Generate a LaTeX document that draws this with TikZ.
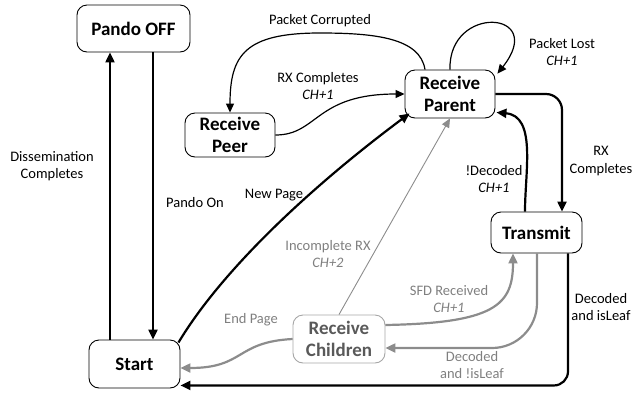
\documentclass[tikz,border=0pt]{standalone}
\usepackage{fontspec}
\setmainfont{Carlito}
\usetikzlibrary{arrows.meta}
\definecolor{gedge}{HTML}{8C8C8C}
\definecolor{gtext}{HTML}{7F7F7F}
\definecolor{gnode}{HTML}{595959}
\definecolor{gborder}{HTML}{A6A6A6}
\tikzset{
  state/.style={draw, rounded corners=10pt, line width=0.9pt, align=center,
    font=\bfseries\fontsize{19}{22.5}\selectfont, inner sep=0pt},
  lbl/.style={align=center, font=\fontsize{14.5}{17.5}\selectfont, inner sep=0pt},
  glbl/.style={lbl, text=gtext},
  thickarr/.style={line width=2.2pt, -{Triangle[length=10pt,width=9pt]}},
  thinarr/.style={line width=1.2pt, -{Triangle[length=9pt,width=8pt]}},
  gthick/.style={line width=2.2pt, draw=gedge, -{Triangle[length=10pt,width=9pt]}, color=gedge},
  gthin/.style={line width=0.9pt, draw=gedge, -{Triangle[length=9pt,width=8pt]}, color=gedge},
}
\begin{document}
\begin{tikzpicture}[x=1pt,y=-1pt]
\useasboundingbox (0,0) rectangle (633,392);
% nodes
\node[state, minimum width=113pt, minimum height=47pt] (off) at (133.5,28.5) {Pando OFF};
\node[state, minimum width=90pt, minimum height=44pt] (peer) at (230,135) {Receive\\Peer};
\node[state, minimum width=90pt, minimum height=48pt] (parent) at (450,94) {Receive\\Parent};
\node[state, minimum width=91pt, minimum height=41pt] (tx) at (536.5,232.5) {Transmit};
\node[state, minimum width=91pt, minimum height=48pt] (start) at (134.5,364) {Start};
\node[state, minimum width=92pt, minimum height=48pt, draw=gborder, text=gnode] (kids) at (339,339) {Receive\\Children};

% Pando OFF <-> Start
\draw[thickarr] ([xshift=-24.5pt]start.north) -- ([xshift=-23.5pt]off.south);
\draw[thickarr] ([xshift=19.5pt]off.south) -- ([xshift=18.5pt]start.north);

% Packet corrupted
\draw[thinarr] ([xshift=-25pt]parent.north) .. controls (420,38) and (375,33) .. (320,33)
   .. controls (245,33) and (230,55) .. (peer.north);
% RX completes peer -> parent
\draw[thinarr] (peer.east) .. controls (318,135) and (315,94) .. (parent.west);
% self loop
\draw[thinarr] (parent.north) .. controls (448,4) and (548,10) .. ([xshift=2pt,yshift=-4pt]parent.north east);
% Parent -> Transmit
\draw[thickarr, rounded corners=16pt] (parent.east) -| ([xshift=25.5pt]tx.north);
% Transmit -> Parent
\draw[thickarr] ([xshift=-11.5pt]tx.north) to[out=90,in=-5] ([xshift=1pt,yshift=6pt]parent.south east);
% New Page
\draw[thickarr] ([xshift=-2pt,yshift=-3pt]start.north east) .. controls (225,265) and (320,180) .. ([xshift=5pt,yshift=5pt]parent.south west);
% Incomplete RX
\draw[gthin] (kids.north) -- (parent.south);
% SFD Received
\draw[gthick] ([yshift=14pt]kids.east) .. controls (495,323) and (513,305) .. ([xshift=-23.5pt]tx.south);
% Decoded and !isLeaf
\draw[gthick, rounded corners=45pt] ([xshift=0.5pt]tx.south) |- ([yshift=-9pt]kids.east);
% Decoded and isLeaf
\draw[thickarr, rounded corners=14pt] ([xshift=31.5pt]tx.south) |- ([yshift=3pt]start.south east);
% End Page
\draw[gthick] (kids.west) .. controls (235,342) and (245,368) .. ([yshift=-4pt]start.east);

% labels
\node[lbl] (l1) at (52,166) {Dissemination\\Completes};
\node[lbl] (l2) at (195,203) {Pando On};
\node[lbl] (l3) at (320,21) {Packet Corrupted};
\node[lbl] (l4) at (318,86) {RX Completes\\\textit{CH+1}};
\node[lbl] (l5) at (562,52) {Packet Lost\\\textit{CH+1}};
\node[lbl] (l6) at (601,161) {RX\\Completes};
\node[lbl] (l7) at (494,179) {!Decoded\\\textit{CH+1}};
\node[lbl] (l8) at (274,195) {New Page};
\node[glbl] (l9) at (328,254) {Incomplete RX\\\textit{CH+2}};
\node[glbl] (l10) at (449,299) {SFD Received\\\textit{CH+1}};
\node[glbl] (l11) at (472,365) {Decoded\\and !isLeaf};
\node[lbl] (l12) at (601,307) {Decoded\\and isLeaf};
\node[glbl] (l13) at (251,320) {End Page};
\end{tikzpicture}
\end{document}
